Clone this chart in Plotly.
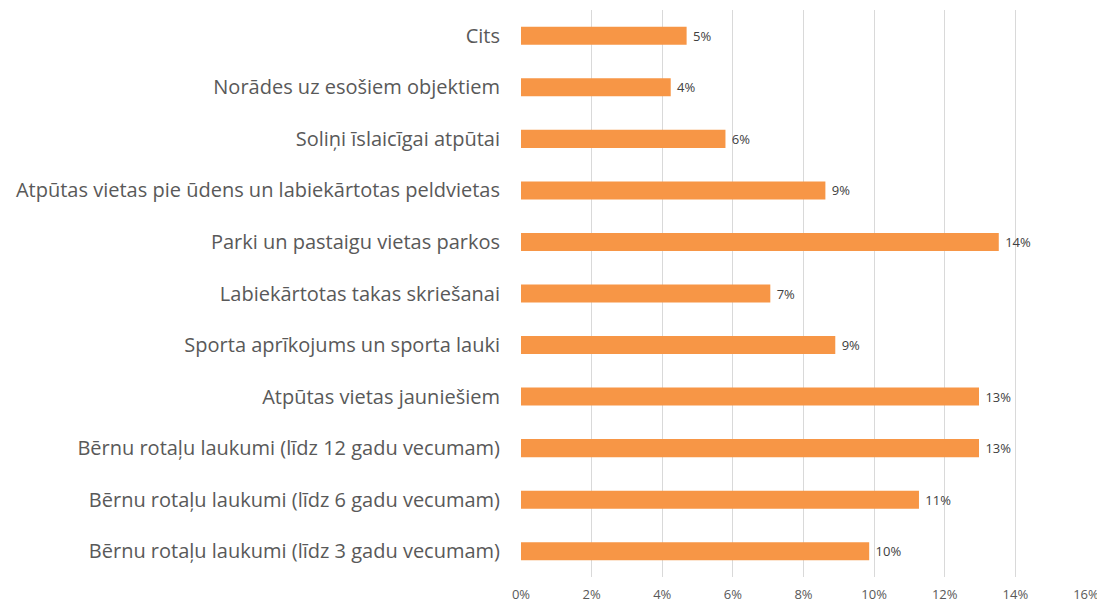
import plotly.graph_objects as go

categories = [
    "Bērnu rotaļu laukumi (līdz 3 gadu vecumam)",
    "Bērnu rotaļu laukumi (līdz 6 gadu vecumam)",
    "Bērnu rotaļu laukumi (līdz 12 gadu vecumam)",
    "Atpūtas vietas jauniešiem",
    "Sporta aprīkojums un sporta lauki",
    "Labiekārtotas takas skriešanai",
    "Parki un pastaigu vietas parkos",
    "Atpūtas vietas pie ūdens un labiekārtotas peldvietas",
    "Soliņi īslaicīgai atpūtai",
    "Norādes uz esošiem objektiem",
    "Cits",
]
values = [0.0986, 0.1127, 0.1297, 0.1297, 0.0890, 0.0706, 0.1353, 0.0862, 0.0579, 0.0424, 0.0469]
tick_vals = [0, 0.02, 0.04, 0.06, 0.08, 0.10, 0.12, 0.14, 0.16]

fig = go.Figure(go.Bar(
    x=values, y=categories, orientation="h",
    marker=dict(color="#F79646", line=dict(width=0)),
    texttemplate="\u00a0%{x:.0%}", textposition="outside",
    textfont=dict(size=13, color="#404040", family="Open Sans"),
    cliponaxis=False,
))
fig.update_layout(
    width=1097, height=594,
    margin=dict(l=513, r=19, t=2, b=25),
    paper_bgcolor="white", plot_bgcolor="white",
    bargap=0.65, showlegend=False,
    font=dict(family="Open Sans", color="#595959"),
)
fig.update_xaxes(range=[0, 0.16], tickvals=tick_vals, tickformat=".0%",
                 showgrid=True, gridcolor="#D9D9D9", gridwidth=1,
                 zeroline=False, showline=False, automargin=False,
                 ticklabelstandoff=8,
                 tickfont=dict(size=13, color="#595959"))
fig.update_yaxes(categoryorder="array", categoryarray=categories,
                 showgrid=False, showline=False, zeroline=False,
                 ticks="", ticklabelstandoff=20, automargin=False,
                 tickfont=dict(size=20, color="#595959"))
fig.write_html("out.html")
